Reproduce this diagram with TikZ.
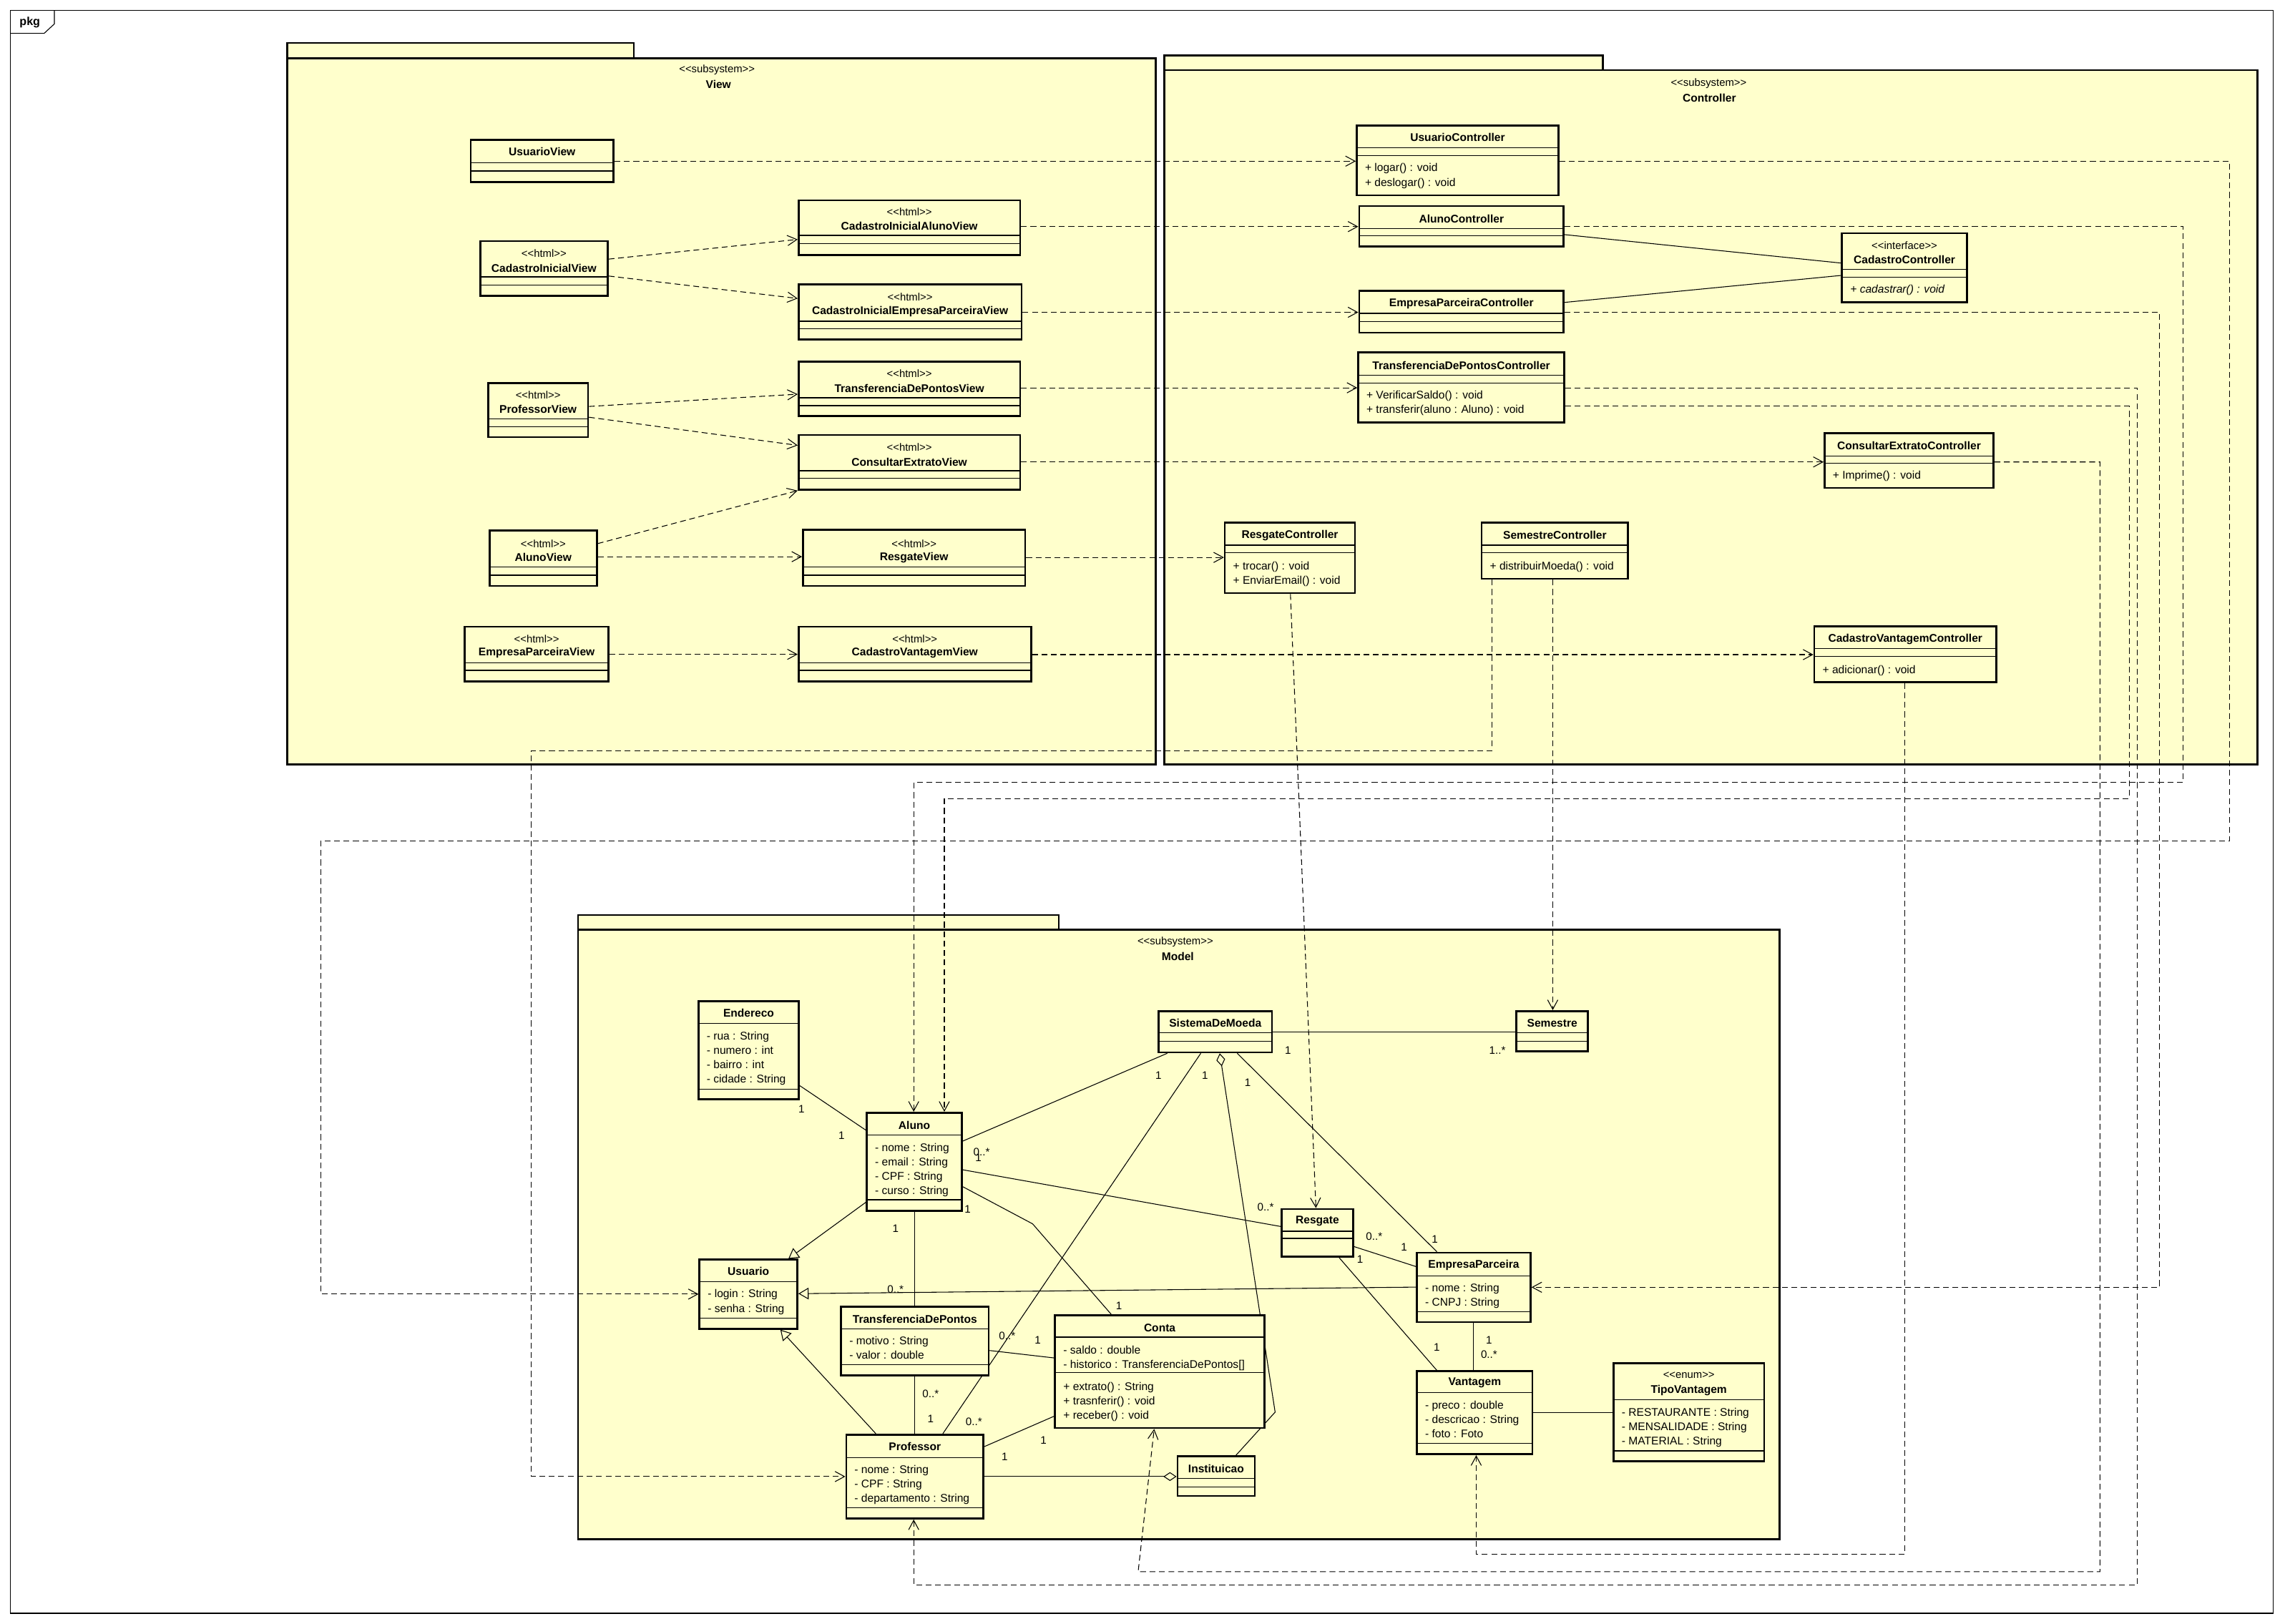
\documentclass[tikz,border=0pt]{standalone}
\usepackage{fontspec}
\setmainfont{Liberation Sans}
\usetikzlibrary{arrows.meta,fit}
\definecolor{umlyellow}{RGB}{255,255,204}
\pgfdeclarelayer{pkglayer}
\pgfdeclarelayer{lines}
\pgfsetlayers{pkglayer,lines,main}

\begin{document}
\begin{tikzpicture}[x=0.4mm, y=-0.4mm,
  font=\fontsize{8.7}{10}\selectfont,
  pkg/.style={draw, line width=1.5pt, fill=umlyellow, inner sep=0pt},
  cls/.style={draw, line width=1.5pt, fill=umlyellow, inner sep=0pt},
  cname/.style={font=\bfseries\fontsize{8.7}{10}\selectfont, inner sep=0pt},
  stereo/.style={font=\fontsize{8.3}{10}\selectfont, inner sep=0pt},
  member/.style={font=\fontsize{8.7}{11.25}\selectfont, align=left, anchor=north west, inner sep=0pt},
  mult/.style={font=\fontsize{8.5}{10}\selectfont, inner sep=0pt},
  sep/.style={line width=0.7pt},
  dep/.style={line width=0.6pt, dash pattern=on 1.6mm off 1mm, -{Straight Barb[length=2.6mm,width=2.8mm]}},
  assoc/.style={line width=0.6pt},
  gen/.style={assoc, -{Triangle[open, length=2.8mm, width=3.2mm]}},
  agg/.style={assoc, -{Diamond[open, length=3.6mm, width=2.4mm]}}
]
\useasboundingbox (0,0) rectangle (1568,1114);

\begin{pgfonlayer}{pkglayer}
% frame
\node[draw, line width=0.6pt, inner sep=0pt, fit={(7,7) (1560,1107)}] (frame) {};
\draw[line width=0.6pt] (37.3,7) -- (37.3,16.4) -- (30.3,22.9) -- (7,22.9);
\node[font=\bfseries\fontsize{9}{10}\selectfont] (pkgLabel) at (20.5,15.3) {pkg};

% packages
\draw[pkg] (197,29.5) rectangle (435,40);
\node[pkg, fit={(197,40) (793,524.5)}] (viewPkg) {};
\node[stereo] (viewSt) at (492,48) {<{}<subsystem>{}>};
\node[cname] (viewName) at (493,58) {View};

\draw[pkg] (799,38.2) rectangle (1100,48.1);
\node[pkg, fit={(799,48.1) (1549,524.5)}] (ctrlPkg) {};
\node[stereo] (ctrlSt) at (1172.5,57.3) {<{}<subsystem>{}>};
\node[cname] (ctrlName) at (1173,67.2) {Controller};

\draw[pkg] (396.7,627.8) rectangle (726.6,637.9);
\node[pkg, fit={(396.7,637.9) (1221,1056.3)}] (modelPkg) {};
\node[stereo] (modelSt) at (806.5,646.6) {<{}<subsystem>{}>};
\node[cname] (modelName) at (808.2,656.5) {Model};
\end{pgfonlayer}

% ---- View classes ----
\node[cls, fit={(323,96) (421,125)}] (usuarioView) {};
\node[cname] (usuarioView-n) at (372,104) {UsuarioView};
\draw[sep] (323,111.7) -- (421,111.7) (323,117.3) -- (421,117.3);

\node[cls, fit={(329.5,165.5) (417,203)}] (cadInicialView) {};
\node[stereo] (cadInicialView-s) at (373.25,174) {<{}<html>{}>};
\node[cname] (cadInicialView-n) at (373.25,184) {CadastroInicialView};
\draw[sep] (329.5,190) -- (417,190) (329.5,195.5) -- (417,195.5);

\node[cls, fit={(548,137.5) (700,175)}] (cadAlunoView) {};
\node[stereo] (cadAlunoView-s) at (624,145.5) {<{}<html>{}>};
\node[cname] (cadAlunoView-n) at (624,155) {CadastroInicialAlunoView};
\draw[sep] (548,161.5) -- (700,161.5) (548,167) -- (700,167);

\node[cls, fit={(548,195) (701,233)}] (cadEmpresaView) {};
\node[stereo] (cadEmpresaView-s) at (624.5,204) {<{}<html>{}>};
\node[cname] (cadEmpresaView-n) at (624.5,214) {CadastroInicialEmpresaParceiraView};
\draw[sep] (548,220.4) -- (701,220.4) (548,225.6) -- (701,225.6);

\node[cls, fit={(335,263) (403.5,300)}] (professorView) {};
\node[stereo] (professorView-s) at (369.25,271) {<{}<html>{}>};
\node[cname] (professorView-n) at (369.25,281) {ProfessorView};
\draw[sep] (335,287.4) -- (403.5,287.4) (335,292.9) -- (403.5,292.9);

\node[cls, fit={(548,248) (700,285.5)}] (transfView) {};
\node[stereo] (transfView-s) at (624,256.5) {<{}<html>{}>};
\node[cname] (transfView-n) at (624,266.5) {TransferenciaDePontosView};
\draw[sep] (548,273) -- (700,273) (548,278.3) -- (700,278.3);

\node[cls, fit={(548,298.5) (700,336)}] (consultarView) {};
\node[stereo] (consultarView-s) at (624,307) {<{}<html>{}>};
\node[cname] (consultarView-n) at (624,317) {ConsultarExtratoView};
\draw[sep] (548,323) -- (700,323) (548,328.3) -- (700,328.3);

\node[cls, fit={(336,364) (409.5,402)}] (alunoView) {};
\node[stereo] (alunoView-s) at (372.75,373) {<{}<html>{}>};
\node[cname] (alunoView-n) at (372.75,382.5) {AlunoView};
\draw[sep] (336,389) -- (409.5,389) (336,394.7) -- (409.5,394.7);

\node[cls, fit={(551,363.5) (703.5,402)}] (resgateView) {};
\node[stereo] (resgateView-s) at (627.25,373) {<{}<html>{}>};
\node[cname] (resgateView-n) at (627.25,382.5) {ResgateView};
\draw[sep] (551,389) -- (703.5,389) (551,394.7) -- (703.5,394.7);

\node[cls, fit={(319,430) (417.5,467.5)}] (empresaView) {};
\node[stereo] (empresaView-s) at (368.25,438.5) {<{}<html>{}>};
\node[cname] (empresaView-n) at (368.25,448) {EmpresaParceiraView};
\draw[sep] (319,455) -- (417.5,455) (319,460) -- (417.5,460);

\node[cls, fit={(548,430) (707.5,467.5)}] (vantagemView) {};
\node[stereo] (vantagemView-s) at (627.75,438.5) {<{}<html>{}>};
\node[cname] (vantagemView-n) at (627.75,448) {CadastroVantagemView};
\draw[sep] (548,455) -- (707.5,455) (548,460) -- (707.5,460);

% ---- Controller classes ----
\node[cls, fit={(931,86) (1069.5,134)}] (usuarioCtrl) {};
\node[cname] (usuarioCtrl-n) at (1000.25,94.3) {UsuarioController};
\draw[sep] (931,101.3) -- (1069.5,101.3) (931,106.8) -- (1069.5,106.8);
\node[member] (usuarioCtrl-o) at (936.5,112.1) {+ logar() : void\\+ deslogar() : void};

\node[cls, fit={(932.7,141.4) (1073,169)}] (alunoCtrl) {};
\node[cname] (alunoCtrl-n) at (1002.85,150) {AlunoController};
\draw[sep] (932.7,156.7) -- (1073,156.7) (932.7,161.8) -- (1073,161.8);

\node[cls, fit={(1264,160) (1349.7,207.5)}] (cadastroCtrl) {};
\node[stereo] (cadastroCtrl-s) at (1306.85,168.3) {<{}<interface>{}>};
\node[cname] (cadastroCtrl-n) at (1306.85,178.4) {CadastroController};
\draw[sep] (1264,184.8) -- (1349.7,184.8) (1264,190.3) -- (1349.7,190.3);
\node[member] (cadastroCtrl-o) at (1269.5,195.5) {\itshape + cadastrar() : void};

\node[cls, fit={(932.7,199.4) (1073,228.3)}] (empresaCtrl) {};
\node[cname] (empresaCtrl-n) at (1002.85,208.6) {EmpresaParceiraController};
\draw[sep] (932.7,215) -- (1073,215) (932.7,220.7) -- (1073,220.7);

\node[cls, fit={(932,241.7) (1073.5,290)}] (transfCtrl) {};
\node[cname] (transfCtrl-n) at (1002.75,250.7) {TransferenciaDePontosController};
\draw[sep] (932,257.3) -- (1073.5,257.3) (932,263) -- (1073.5,263);
\node[member] (transfCtrl-o) at (937.5,268.1) {+ VerificarSaldo() : void\\+ transferir(aluno : Aluno) : void};

\node[cls, fit={(1252,297.3) (1368,334.8)}] (consultarCtrl) {};
\node[cname] (consultarCtrl-n) at (1310,306) {ConsultarExtratoController};
\draw[sep] (1252,312.9) -- (1368,312.9) (1252,317.7) -- (1368,317.7);
\node[member] (consultarCtrl-o) at (1257.5,323.1) {+ Imprime() : void};

\node[cls, fit={(840.5,358.7) (929.8,407)}] (resgateCtrl) {};
\node[cname] (resgateCtrl-n) at (885.15,367.3) {ResgateController};
\draw[sep] (840.5,374.1) -- (929.8,374.1) (840.5,379.1) -- (929.8,379.1);
\node[member] (resgateCtrl-o) at (846,385.2) {+ trocar() : void\\+ EnviarEmail() : void};

\node[cls, fit={(1016.7,358.7) (1117.2,397.1)}] (semestreCtrl) {};
\node[cname] (semestreCtrl-n) at (1066.95,367.3) {SemestreController};
\draw[sep] (1016.7,374.1) -- (1117.2,374.1) (1016.7,379.1) -- (1117.2,379.1);
\node[member] (semestreCtrl-o) at (1022.2,385.2) {+ distribuirMoeda() : void};

\node[cls, fit={(1245,429.9) (1369.9,468)}] (vantagemCtrl) {};
\node[cname] (vantagemCtrl-n) at (1307.45,438.5) {CadastroVantagemController};
\draw[sep] (1245,445.1) -- (1369.9,445.1) (1245,450.3) -- (1369.9,450.3);
\node[member] (vantagemCtrl-o) at (1250.5,456.3) {+ adicionar() : void};

% ---- Model classes ----
\node[cls, fit={(795,693.8) (872.9,722.1)}] (sistema) {};
\node[cname] (sistema-n) at (833.95,702) {SistemaDeMoeda};
\draw[sep] (795,708.8) -- (872.9,708.8) (795,714.6) -- (872.9,714.6);

\node[cls, fit={(1040.6,693.8) (1089.7,721.3)}] (semestre) {};
\node[cname] (semestre-n) at (1065.15,702) {Semestre};
\draw[sep] (1040.6,708.8) -- (1089.7,708.8) (1040.6,714.6) -- (1089.7,714.6);

\node[cls, fit={(479.3,687.2) (548.2,754.4)}] (endereco) {};
\node[cname] (endereco-n) at (513.75,695.3) {Endereco};
\draw[sep] (479.3,702.3) -- (548.2,702.3) (479.3,747.4) -- (548.2,747.4);
\node[member] (endereco-a) at (484.8,707.7) {- rua : String\\- numero : int\\- bairro : int\\- cidade : String};

\node[cls, fit={(594.8,763.5) (660,830.8)}] (aluno) {};
\node[cname] (aluno-n) at (627.4,772) {Aluno};
\draw[sep] (594.8,779) -- (660,779) (594.8,823.3) -- (660,823.3);
\node[member] (aluno-a) at (600.3,784.3) {- nome : String\\- email : String\\- CPF : String\\- curso : String};

\node[cls, fit={(879.5,829.6) (928.5,862.4)}] (resgate) {};
\node[cname] (resgate-n) at (904,838.1) {Resgate};
\draw[sep] (879.5,844.8) -- (928.5,844.8) (879.5,849.8) -- (928.5,849.8);

\node[cls, fit={(480,864.4) (547.2,911.8)}] (usuario) {};
\node[cname] (usuario-n) at (513.6,872.3) {Usuario};
\draw[sep] (480,879.3) -- (547.2,879.3) (480,904.5) -- (547.2,904.5);
\node[member] (usuario-a) at (485.5,884.8) {- login : String\\- senha : String};

\node[cls, fit={(972.3,859.6) (1050.3,907.2)}] (empresa) {};
\node[cname] (empresa-n) at (1011.3,868.4) {EmpresaParceira};
\draw[sep] (972.3,875.4) -- (1050.3,875.4) (972.3,900) -- (1050.3,900);
\node[member] (empresa-a) at (977.8,880.5) {- nome : String\\- CNPJ : String};

\node[cls, fit={(577.2,896.7) (678.4,943.8)}] (tdp) {};
\node[cname] (tdp-n) at (627.8,905) {TransferenciaDePontos};
\draw[sep] (577.2,911.7) -- (678.4,911.7) (577.2,936.3) -- (678.4,936.3);
\node[member] (tdp-a) at (582.7,917.1) {- motivo : String\\- valor : double};

\node[cls, fit={(724,902.5) (867.6,979.9)}] (conta) {};
\node[cname] (conta-n) at (795.8,911) {Conta};
\draw[sep] (724,917.5) -- (867.6,917.5) (724,941.8) -- (867.6,941.8);
\node[member] (conta-a) at (729.5,923.3) {- saldo : double\\- historico : TransferenciaDePontos[]};
\node[member] (conta-o) at (729.5,948.4) {+ extrato() : String\\+ trasnferir() : void\\+ receber() : void};

\node[cls, fit={(972.3,941) (1051.6,997.9)}] (vantagem) {};
\node[cname] (vantagem-n) at (1011.95,948.8) {Vantagem};
\draw[sep] (972.3,955.6) -- (1051.6,955.6) (972.3,990.6) -- (1051.6,990.6);
\node[member] (vantagem-a) at (977.8,960.9) {- preco : double\\- descricao : String\\- foto : Foto};

\node[cls, fit={(1107.2,935.5) (1210.6,1002.7)}] (tipoVantagem) {};
\node[stereo] (tipoVantagem-s) at (1158.9,943.8) {<{}<enum>{}>};
\node[cname] (tipoVantagem-n) at (1158.9,954.3) {TipoVantagem};
\draw[sep] (1107.2,960.6) -- (1210.6,960.6) (1107.2,995.6) -- (1210.6,995.6);
\node[member] (tipoVantagem-a) at (1112.7,965.9) {- RESTAURANTE : String\\- MENSALIDADE : String\\- MATERIAL : String};

\node[cls, fit={(580.7,984.4) (674.9,1042)}] (professor) {};
\node[cname] (professor-n) at (627.8,992.6) {Professor};
\draw[sep] (580.7,1000.2) -- (674.9,1000.2) (580.7,1034.5) -- (674.9,1034.5);
\node[member] (professor-a) at (586.2,1005.3) {- nome : String\\- CPF : String\\- departamento : String};

\node[cls, fit={(808,999.4) (861,1026.5)}] (instituicao) {};
\node[cname] (instituicao-n) at (834.5,1007.7) {Instituicao};
\draw[sep] (808,1014.4) -- (861,1014.4) (808,1020.2) -- (861,1020.2);

\begin{pgfonlayer}{lines}
% ---- View dependencies ----
\draw[dep] (cadInicialView.east |- 0,177.8) -- (cadAlunoView.west |- 0,164.3);
\draw[dep] (cadInicialView.east |- 0,189.4) -- (cadEmpresaView.west |- 0,204.8);
\draw[dep] (professorView.east |- 0,278.9) -- (transfView.west |- 0,270.5);
\draw[dep] (professorView.east |- 0,286.3) -- (consultarView.west |- 0,305.6);
\draw[dep] (alunoView.east |- 0,373) -- (consultarView.south west);
\draw[dep] (alunoView.east |- 0,382) -- (resgateView.west |- 0,382);
\draw[dep] (empresaView.east |- 0,449) -- (vantagemView.west |- 0,449);

% ---- View -> Controller ----
\draw[dep] (usuarioView.east |- 0,110.6) -- (usuarioCtrl.west |- 0,110.6);
\draw[dep] (cadAlunoView.east |- 0,155.5) -- (alunoCtrl.west |- 0,155.5);
\draw[dep] (cadEmpresaView.east |- 0,214.3) -- (empresaCtrl.west |- 0,214.3);
\draw[dep] (transfView.east |- 0,266.1) -- (transfCtrl.west |- 0,266.1);
\draw[dep] (consultarView.east |- 0,317) -- (consultarCtrl.west |- 0,317);
\draw[dep] (resgateView.east |- 0,382.5) -- (resgateCtrl.west |- 0,382.5);
\draw[dep] (vantagemView.east |- 0,449.2) -- (vantagemCtrl.west |- 0,449.2);

% ---- Controller ----
\draw[assoc] (alunoCtrl.east |- 0,161) -- (cadastroCtrl.west |- 0,180.5);
\draw[assoc] (empresaCtrl.east |- 0,207.5) -- (cadastroCtrl.west |- 0,189);

% ---- Controller -> Model ----
\draw[dep] (usuarioCtrl.east |- 0,110.6) -| (1530,577) -| (220,888) -- (usuario.west |- 0,888);
\draw[dep] (alunoCtrl.east |- 0,155.5) -| (1498,537) -| (aluno.north -| 627,0);
\draw[dep] (transfCtrl.east |- 0,278.8) -| (1461,548) -| (aluno.north -| 648,0);
\draw[dep] (transfCtrl.east |- 0,266.1) -| (1466.5,1087.5) -| (professor.south -| 627,0);
\draw[dep] (empresaCtrl.east |- 0,214.3) -| (1482,883.3) -- (empresa.east |- 0,883.3);
\draw[dep] (consultarCtrl.east |- 0,317) -| (1441,1078.5) -- (781,1078.5) -- (conta.south -| 792,0);
\draw[dep] (vantagemCtrl.south -| 1307,0) -- (1307,1066.5) -| (vantagem.south -| 1013,0);
\draw[dep] (resgateCtrl.south -| 885.5,0) -- (resgate.north -| 903,0);
\draw[dep] (semestreCtrl.south -| 1024,0) |- (364.5,515) |- (professor.west |- 0,1013.2);
\draw[dep] (semestreCtrl.south -| 1065.5,0) -- (semestre.north -| 1065.5,0);

% ---- Model associations ----
\draw[assoc] (endereco.east |- 0,745) -- (aluno.west |- 0,775.5);
\draw[assoc] (sistema.east |- 0,708) -- (semestre.west |- 0,708);
\draw[assoc] (sistema.south -| 801,0) -- (aluno.east |- 0,783);
\draw[assoc] (sistema.south -| 824,0) -- (professor.north -| 647,0);
\draw[assoc, {Diamond[open, length=3.6mm, width=2.4mm]}-] (sistema.south -| 837,0) -- (875,969) -- (instituicao.north -| 848,0);
\draw[assoc] (sistema.south -| 849,0) -- (empresa.north -| 986,0);
\draw[assoc] (aluno.east |- 0,802.7) -- (resgate.west |- 0,841.6);
\draw[assoc] (aluno.east |- 0,814.3) -- (708.6,839.8) -- (conta.north -| 762.5,0);
\draw[assoc] (aluno.south -| 627.6,0) -- (tdp.north -| 627.6,0);
\draw[gen] (aluno.west |- 0,825) -- (usuario.north -| 541,0);
\draw[gen] (empresa.west |- 0,883.2) -- (usuario.east |- 0,887.7);
\draw[gen] (professor.north -| 601,0) -- (usuario.south -| 535.5,0);
\draw[assoc] (tdp.south -| 627.6,0) -- (professor.north -| 627.6,0);
\draw[assoc] (tdp.east |- 0,926.7) -- (conta.west |- 0,931.8);
\draw[assoc] (conta.west |- 0,971.8) -- (professor.east |- 0,992.6);
\draw[agg] (professor.east |- 0,1013.2) -- (instituicao.west |- 0,1013.2);
\draw[assoc] (resgate.east |- 0,855.4) -- (empresa.west |- 0,869.1);
\draw[assoc] (resgate.south -| 919,0) -- (vantagem.north -| 986,0);
\draw[assoc] (empresa.south -| 1011,0) -- (vantagem.north -| 1011,0);
\draw[assoc] (vantagem.east |- 0,969.3) -- (tipoVantagem.west |- 0,969.3);
\end{pgfonlayer}

% ---- multiplicities ----
\node[mult] (m1) at (550,761) {1};
\node[mult] (m2) at (577.5,779.2) {1};
\node[mult] (m3) at (883.8,720.6) {1};
\node[mult] (m4) at (1027.5,720.6) {1..*};
\node[mult] (m5) at (795,738.1) {1};
\node[mult] (m6) at (826.9,738.1) {1};
\node[mult] (m7) at (856.2,743.1) {1};
\node[mult] (m8) at (673.6,790.5) {0..*};
\node[mult] (m9) at (671.4,794.5) {1};
\node[mult] (m10) at (664,829.8) {1};
\node[mult] (m11) at (614.5,842.8) {1};
\node[mult] (m12) at (868.5,828.5) {0..*};
\node[mult] (m13) at (943,848.6) {0..*};
\node[mult] (m14) at (963.5,855.9) {1};
\node[mult] (m15) at (933.3,864.1) {1};
\node[mult] (m16) at (984.6,850.3) {1};
\node[mult] (m17) at (614.5,884.9) {0..*};
\node[mult] (m18) at (767.8,896.2) {1};
\node[mult] (m19) at (691.1,916.7) {0..*};
\node[mult] (m20) at (712.1,919.7) {1};
\node[mult] (m21) at (985.9,924.7) {1};
\node[mult] (m22) at (1021.8,919.7) {1};
\node[mult] (m23) at (1021.8,929.3) {0..*};
\node[mult] (m24) at (638.6,956.3) {0..*};
\node[mult] (m25) at (638.6,973.6) {1};
\node[mult] (m26) at (668.3,975.6) {0..*};
\node[mult] (m27) at (716.1,988.1) {1};
\node[mult] (m28) at (689.4,999.4) {1};
\end{tikzpicture}
\end{document}
